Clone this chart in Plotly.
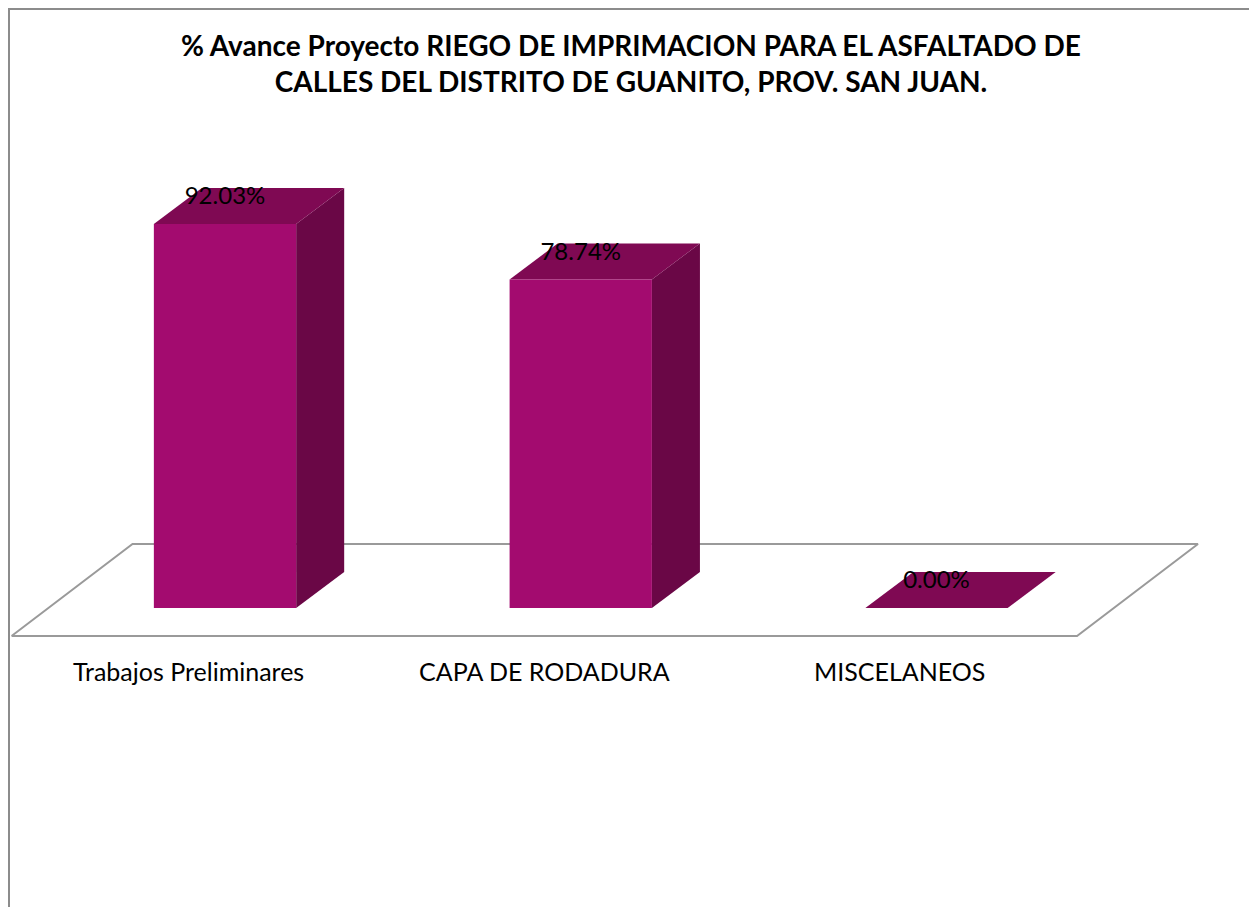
import plotly.graph_objects as go

## Data
categories = ["Trabajos Preliminares", "CAPA DE RODADURA", "MISCELANEOS"]
avance = [92.03, 78.74, 0.00]
value_labels = ["92.03%", "78.74%", "0.00%"]

TITLE = ("% Avance Proyecto RIEGO DE IMPRIMACION PARA EL ASFALTADO DE<br>"
         "CALLES DEL DISTRITO DE GUANITO, PROV. SAN JUAN.")

# --- colours / style ---
C_FRONT = "#A30B6F"
C_SIDE = "#6A0746"
C_TOP = "#7F0953"
C_FLOOR = "#9A9A9A"
FONT = "Lato"

W, H = 1257, 907
# fake 3D geometry (in data units)
HALF_W = 0.20        # half bar width (category units)
DEPTH_X = 0.135      # bar depth, x part
DEPTH_Y = 8.63       # bar depth, y part
FLOOR_X0, FLOOR_X1 = -0.60, 2.395
FLOOR_Y = -6.71
FLOOR_DX, FLOOR_DY = 0.34, 22.05

# page body has an 8px margin, ranges account for it
X_RANGE = [-0.610, 2.9234]
Y_RANGE = [-73.58, 143.80]

fig = go.Figure()

# floor (3D plane under the bars)
fx = [FLOOR_X0, FLOOR_X1, FLOOR_X1 + FLOOR_DX, FLOOR_X0 + FLOOR_DX, FLOOR_X0]
fy = [FLOOR_Y, FLOOR_Y, FLOOR_Y + FLOOR_DY, FLOOR_Y + FLOOR_DY, FLOOR_Y]
fig.add_trace(go.Scatter(x=fx, y=fy, mode="lines",
                         line=dict(color=C_FLOOR, width=2),
                         hoverinfo="skip", showlegend=False))

for i, (cat, v) in enumerate(zip(categories, avance)):
    xl, xr = i - HALF_W, i + HALF_W
    # side face
    fig.add_trace(go.Scatter(
        x=[xr, xr + DEPTH_X, xr + DEPTH_X, xr, xr],
        y=[0, DEPTH_Y, v + DEPTH_Y, v, 0],
        fill="toself", fillcolor=C_SIDE, mode="lines", line=dict(width=0),
        hoverinfo="skip", showlegend=False))
    # top face
    fig.add_trace(go.Scatter(
        x=[xl, xr, xr + DEPTH_X, xl + DEPTH_X, xl],
        y=[v, v, v + DEPTH_Y, v + DEPTH_Y, v],
        fill="toself", fillcolor=C_TOP, mode="lines", line=dict(width=0),
        hoverinfo="skip", showlegend=False))
    # front face
    fig.add_trace(go.Scatter(
        x=[xl, xr, xr, xl, xl],
        y=[0, 0, v, v, 0],
        fill="toself", fillcolor=C_FRONT, mode="lines", line=dict(width=0),
        name=cat, hovertemplate=f"{cat}: {v:.2f}%<extra></extra>",
        showlegend=False))

# value labels
fig.add_trace(go.Scatter(
    x=list(range(len(avance))), y=[v + 6.2 for v in avance],
    mode="text", text=value_labels,
    textfont=dict(family=FONT, size=24, color="black"),
    hoverinfo="skip", showlegend=False))

# category labels under the floor
for i, cat in enumerate(categories):
    fig.add_annotation(x=i - 0.103, y=-15.1, text=cat, showarrow=False,
                       font=dict(family=FONT, size=25, color="black"),
                       xanchor="center", yanchor="middle")

# title
fig.add_annotation(xref="paper", yref="paper", x=623 / W, y=1 - 55 / H,
                   text=f"<b>{TITLE}</b>", showarrow=False,
                   font=dict(family=FONT, size=28, color="black"),
                   xanchor="center", yanchor="middle")

# chart border
fig.add_shape(type="rect", xref="paper", yref="paper",
              x0=1 / W, x1=1245 / W, y0=-0.02, y1=1 - 1 / H,
              line=dict(color="#8C8C8C", width=2), layer="below")

fig.update_xaxes(range=X_RANGE, visible=False, fixedrange=True)
fig.update_yaxes(range=Y_RANGE, visible=False, fixedrange=True)
fig.update_layout(width=W, height=H, margin=dict(l=0, r=0, t=0, b=0),
                  paper_bgcolor="white", plot_bgcolor="white")

fig.write_html("out.html")
